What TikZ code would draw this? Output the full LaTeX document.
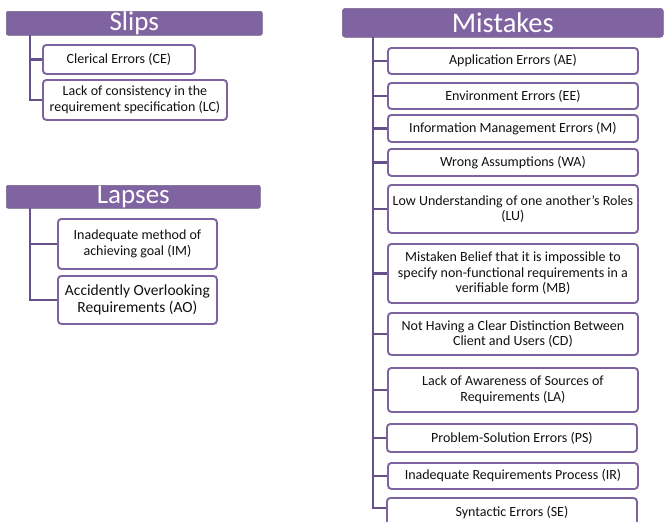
\documentclass[tikz,border=0pt]{standalone}
\usepackage{fontspec}
\setmainfont{Carlito}
\definecolor{hdrpurple}{HTML}{8064A2}
\definecolor{hdredge}{HTML}{74668A}
\definecolor{boxedge}{HTML}{7D63A0}
\definecolor{linkpurple}{HTML}{65508A}
\definecolor{textgray}{HTML}{111111}
\tikzset{
  header/.style={fill=hdrpurple, draw=hdredge, line width=0.6pt, rounded corners=2pt,
    anchor=north west, inner sep=0pt, text=white,
    font=\fontsize{27}{29}\selectfont},
  itembox/.style={draw=boxedge, fill=white, line width=1.9pt, rounded corners=3.5pt,
    anchor=north west, inner sep=0pt, align=center, text=textgray,
    font=\fontsize{14}{15.5}\selectfont},
  link/.style={draw=linkpurple, line width=2.2pt},
}
\begin{document}
\begin{tikzpicture}[x=1pt, y=-1pt]
\useasboundingbox (0,0) rectangle (665,522);

% ---- Slips ----
\node[header, minimum width=256pt, minimum height=24pt] (slips) at (6,11) {Slips};
\coordinate (sTop) at (30,35);
\node[itembox, minimum width=152pt, minimum height=29pt] (CE) at (42,44) {Clerical Errors (CE)};
\node[itembox, minimum width=184pt, minimum height=40pt] (LC) at (42,79)
  {Lack of consistency in the\\requirement specification (LC)};
\draw[link] (sTop) |- (CE.west);
\draw[link] (sTop) |- (LC.west);

% ---- Lapses ----
\node[header, minimum width=254pt, minimum height=23pt] (lapses) at (6,185) {Lapses};
\coordinate (lTop) at (30,208);
\node[itembox, minimum width=159pt, minimum height=50pt] (IM) at (57,218)
  {Inadequate method of\\achieving goal (IM)};
\node[itembox, minimum width=159pt, minimum height=48pt,
  font=\fontsize{15.5}{17}\selectfont] (AO) at (57,275)
  {Accidently Overlooking\\Requirements (AO)};
\draw[link] (lTop) |- (IM.west);
\draw[link] (lTop) |- (AO.west);

% ---- Mistakes ----
\node[header, minimum width=321pt, minimum height=29pt, rounded corners=3pt,
  font=\fontsize{28.5}{30}\selectfont] (mistakes) at (342,8) {Mistakes};
\coordinate (mTop) at (373,37);
\node[itembox, minimum width=250pt, minimum height=26pt] (AE) at (387,47) {Application Errors (AE)};
\node[itembox, minimum width=250pt, minimum height=26pt] (EE) at (387,82) {Environment Errors (EE)};
\node[itembox, minimum width=250pt, minimum height=27pt] (IME) at (387,114) {Information Management Errors (M)};
\node[itembox, minimum width=250pt, minimum height=27pt] (WA) at (387,148) {Wrong Assumptions (WA)};
\node[itembox, minimum width=250pt, minimum height=48pt] (LU) at (387,184)
  {Low Understanding of one another’s Roles\\(LU)};
\node[itembox, minimum width=250pt, minimum height=59pt] (MB) at (387,243)
  {Mistaken Belief that it is impossible to\\specify non-functional requirements in a\\verifiable form (MB)};
\node[itembox, minimum width=250pt, minimum height=42pt] (CD) at (387,312)
  {Not Having a Clear Distinction Between\\Client and Users (CD)};
\node[itembox, minimum width=250pt, minimum height=44pt] (LA) at (387,367)
  {Lack of Awareness of Sources of\\Requirements (LA)};
\node[itembox, minimum width=250pt, minimum height=28pt] (PS) at (386,423) {Problem-Solution Errors (PS)};
\node[itembox, minimum width=250pt, minimum height=26pt] (IR) at (387,462) {Inadequate Requirements Process (IR)};
\node[itembox, minimum width=250pt, minimum height=30pt] (SE) at (386,497) {Syntactic Errors (SE)};
\foreach \n in {AE,EE,IME,WA,LU,MB,CD,LA,PS,IR}
  \draw[link] (mTop) |- (\n.west);
\draw[link] (mTop) |- ([yshift=5pt]SE.west);
\end{tikzpicture}
\end{document}
